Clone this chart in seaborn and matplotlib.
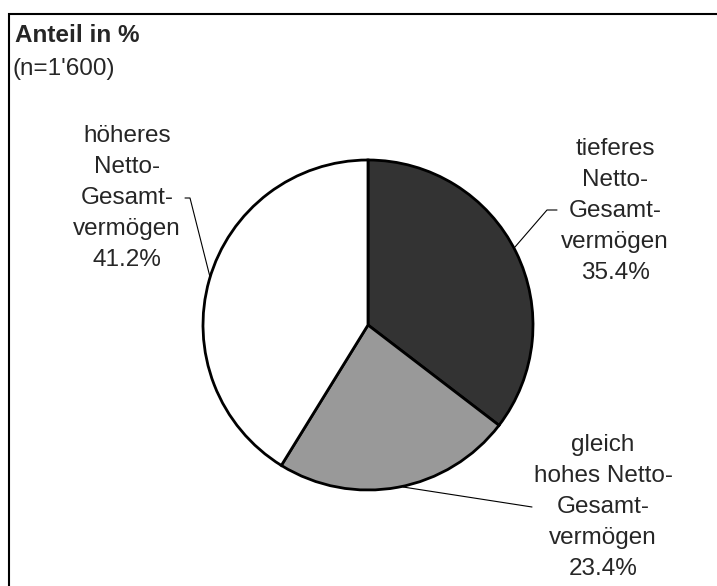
#import libraries
import matplotlib
matplotlib.use("Agg")
import matplotlib.pyplot as plt
import seaborn as sns
from matplotlib.patches import Rectangle

#data
labels = ["tieferes\nNetto-\nGesamt-\nvermögen", "gleich\nhohes Netto-\nGesamt-\nvermögen", "höheres\nNetto-\nGesamt-\nvermögen"]
shares = [35.4, 23.4, 41.2]
colors = ["#333333", "#999999", "#ffffff"]
title = "Anteil in %"
subtitle = "(n=1'600)"

sns.set_style("white")
plt.rcParams['font.family'] = ['Liberation Sans', 'DejaVu Sans']

W, H = 717, 586
fig = plt.figure(figsize=(W / 100, H / 100), dpi=100)
ax = fig.add_axes([0, 0, 1, 1])

def yy(y):
    # image pixel row -> data y
    return H - y

#pie
ax.pie(shares, colors=sns.color_palette(colors), startangle=90, counterclock=False,
       center=(368, yy(325)), radius=165,
       wedgeprops=dict(edgecolor="black", linewidth=2))

ax.set_xlim(0, W)
ax.set_ylim(0, H)
ax.set_aspect("equal")
ax.axis("off")

#frame
ax.add_patch(Rectangle((8.5, yy(600)), 720, 600 - 13.5, fill=False,
                       edgecolor="black", linewidth=1.5, clip_on=False))

#title
ax.text(15, yy(35), title, fontsize=17.5, fontweight="bold", ha="left", va="center")
ax.text(13, yy(69), subtitle, fontsize=17.5, ha="left", va="center")

#labels with leader lines
label_pos = [(615, 211), (603, 507), (127, 198)]
leaders = [[(515, 247), (547, 210), (557, 210)],
           [(403, 487), (532, 507)],
           [(210, 277), (190, 198), (185, 198)]]
for lab, val, (x, y), pts in zip(labels, shares, label_pos, leaders):
    ax.text(x, yy(y), f"{lab}\n{val:.1f}%", fontsize=17.5, ha="center", va="center",
            multialignment="center", linespacing=1.53)
    ax.plot([p[0] for p in pts], [yy(p[1]) for p in pts], color="black", linewidth=0.8)

plt.savefig("out.png", dpi=100)
